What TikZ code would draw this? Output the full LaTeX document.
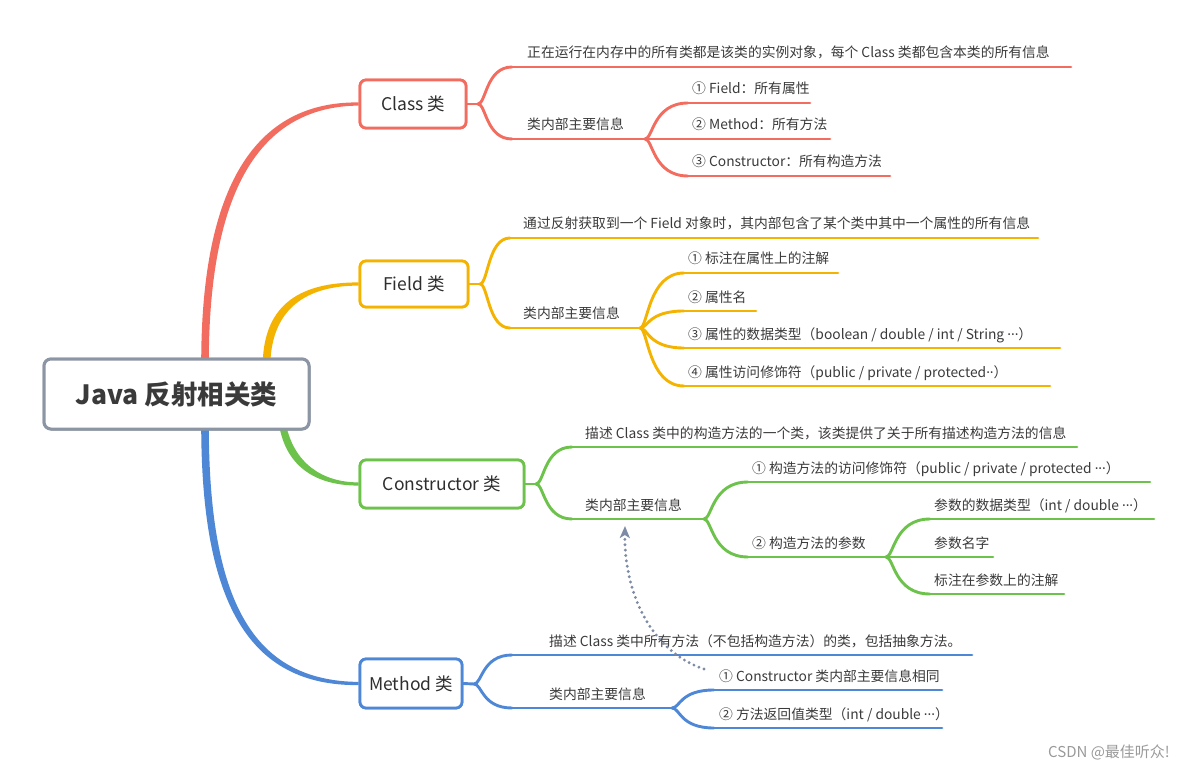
\documentclass[tikz,border=0pt]{standalone}
\usepackage{fontspec}
\setmainfont{Noto Sans CJK SC}
\newfontfamily\latf{Noto Sans}
\usetikzlibrary{calc,arrows.meta}
\definecolor{cred}{HTML}{F26D5F}
\definecolor{corg}{HTML}{F5B301}
\definecolor{cgrn}{HTML}{6CC24A}
\definecolor{cblu}{HTML}{4E87D6}
\definecolor{txt}{HTML}{3A3A3A}
\definecolor{boxtxt}{HTML}{2E2E2E}
\definecolor{rootc}{HTML}{8C95A3}
\definecolor{dotc}{HTML}{7D8BA5}
\definecolor{wmk}{HTML}{9A9A9A}
\tikzset{
  mmbox/.style={draw, line width=2.8pt, rounded corners=6pt, fill=white, text=boxtxt,
    font=\fontsize{17.5}{20}\selectfont, inner sep=0pt},
  rootbox/.style={draw=rootc, line width=3pt, rounded corners=7pt, fill=white, text=txt,
    font=\fontsize{26.5}{30}\selectfont\bfseries, inner sep=0pt, minimum width=265pt, minimum height=70pt},
  lbl/.style={anchor=base west, inner sep=0pt, text=txt, font=\fontsize{13.8}{16}\selectfont},
  br/.style={line width=2.9pt, line cap=round},
}
\newcommand{\dd}[1]{{\latf #1}}
\newcommand{\bcurve}[3]{\draw[br,#1] (#2) .. controls ($(#2)+(8,0)$) and ($(#2|-#3)+(8,0)$) .. (#3);}
\newcommand{\leaf}[7]{%
  \coordinate (#1s) at (#3,#4); \coordinate (#1e) at (#5,#4);
  \node[lbl] (#1) at (#6,#4-9) {#7};
  \draw[br,#2] (#1s) -- (#1e);}
\begin{document}
\begin{tikzpicture}[x=1pt,y=-1pt]
\useasboundingbox (0,0) rectangle (1184,770);
\node[rootbox] (root) at (176.5,394) {Java 反射相关类};
\node[mmbox, draw=cred, minimum width=106pt, minimum height=48pt] (Class) at (413,104) {Class 类};
\node[mmbox, draw=corg, minimum width=108pt, minimum height=46pt] (Field) at (414,284) {Field 类};
\node[mmbox, draw=cgrn, minimum width=164pt, minimum height=48pt] (Cons) at (442,484) {Constructor 类};
\node[mmbox, draw=cblu, minimum width=102pt, minimum height=49pt] (Meth) at (411,683.5) {Method 类};
% main tapered connectors
\coordinate (rS1) at ([xshift=28.5pt]root.north);
\coordinate (rS2) at ([xshift=90pt]root.north);
\coordinate (rS3) at ([xshift=106pt]root.south);
\coordinate (rS4) at ([xshift=28.5pt]root.south);
\fill[cred] ($(rS1)+(-3.8,6)$) .. controls (201.2,198) and (248,101.4) .. ($(Class.west)+(0,-1.6)$)
   -- ($(Class.west)+(0,1.6)$) .. controls (252,106.6) and (208.8,204) .. ($(rS1)+(3.8,6)$) -- cycle;
\fill[corg] ($(rS2)+(-3.8,6)$) .. controls (264,302) and (303,282.4) .. ($(Field.west)+(0,-1.6)$)
   -- ($(Field.west)+(0,1.6)$) .. controls (307,285.6) and (272,308) .. ($(rS2)+(3.8,6)$) -- cycle;
\fill[cgrn] ($(rS3)+(-3.5,-6)$) .. controls (286,467) and (316,485.6) .. ($(Cons.west)+(0,1.6)$)
   -- ($(Cons.west)+(0,-1.6)$) .. controls (322,482.4) and (294,463) .. ($(rS3)+(3.5,-6)$) -- cycle;
\fill[cblu] ($(rS4)+(-3.8,-6)$) .. controls (201.2,602) and (248,686.1) .. ($(Meth.west)+(0,1.6)$)
   -- ($(Meth.west)+(0,-1.6)$) .. controls (252,680.9) and (208.8,600) .. ($(rS4)+(3.8,-6)$) -- cycle;
% redraw nodes on top of the connectors
\node[rootbox] at (root.center) {Java 反射相关类};
\node[mmbox, draw=cred, minimum width=106pt, minimum height=48pt] at (Class.center) {Class 类};
\node[mmbox, draw=corg, minimum width=108pt, minimum height=46pt] at (Field.center) {Field 类};
\node[mmbox, draw=cgrn, minimum width=164pt, minimum height=48pt] at (Cons.center) {Constructor 类};
\node[mmbox, draw=cblu, minimum width=102pt, minimum height=49pt] at (Meth.center) {Method 类};

% ---------- Class ----------
\coordinate (cf) at (478,104);
\draw[br,cred] (Class.east) -- (cf);
\leaf{cA}{cred}{512}{67}{1071}{527}{正在运行在内存中的所有类都是该类的实例对象，每个 Class 类都包含本类的所有信息}
\leaf{cB}{cred}{512}{139}{645}{527}{类内部主要信息}
\bcurve{cred}{cf}{cAs}
\bcurve{cred}{cf}{cBs}
\leaf{cB1}{cred}{688}{103}{810}{692}{① Field：所有属性}
\leaf{cB2}{cred}{645}{139}{830}{692}{② Method：所有方法}
\leaf{cB3}{cred}{688}{176}{890}{692}{③ Constructor：所有构造方法}
\bcurve{cred}{cBe}{cB1s}
\bcurve{cred}{cBe}{cB3s}

% ---------- Field ----------
\coordinate (ff) at (480,284);
\draw[br,corg] (Field.east) -- (ff);
\leaf{fA}{corg}{510}{238}{1038}{523}{通过反射获取到一个 Field 对象时，其内部包含了某个类中其中一个属性的所有信息}
\leaf{fB}{corg}{510}{328}{640}{523}{类内部主要信息}
\bcurve{corg}{ff}{fAs}
\bcurve{corg}{ff}{fBs}
\leaf{fB1}{corg}{684}{273}{838}{688}{① 标注在属性上的注解}
\leaf{fB2}{corg}{684}{311}{756}{688}{② 属性名}
\leaf{fB3}{corg}{684}{348}{1060}{688}{③ 属性的数据类型（boolean / double / int / String \dd{···}）}
\leaf{fB4}{corg}{684}{386}{1050}{688}{④ 属性访问修饰符（public / private / protected\dd{··}）}
\bcurve{corg}{fBe}{fB1s}
\bcurve{corg}{fBe}{fB2s}
\bcurve{corg}{fBe}{fB3s}
\bcurve{corg}{fBe}{fB4s}

% ---------- Constructor ----------
\coordinate (kf) at (536,484);
\draw[br,cgrn] (Cons.east) -- (kf);
\leaf{kA}{cgrn}{572}{447}{1077}{585}{描述 Class 类中的构造方法的一个类，该类提供了关于所有描述构造方法的信息}
\leaf{kB}{cgrn}{572}{519}{704}{585}{类内部主要信息}
\bcurve{cgrn}{kf}{kAs}
\bcurve{cgrn}{kf}{kBs}
\leaf{kB1}{cgrn}{748}{482}{1150}{752}{① 构造方法的访问修饰符（public / private / protected \dd{···}）}
\leaf{kB2}{cgrn}{748}{557}{886}{752}{② 构造方法的参数}
\bcurve{cgrn}{kBe}{kB1s}
\bcurve{cgrn}{kBe}{kB2s}
\leaf{kC1}{cgrn}{930}{519}{1154}{934}{参数的数据类型（int / double \dd{···}）}
\leaf{kC2}{cgrn}{886}{557}{993}{934}{参数名字}
\leaf{kC3}{cgrn}{930}{594}{1064}{934}{标注在参数上的注解}
\bcurve{cgrn}{kB2e}{kC1s}
\bcurve{cgrn}{kB2e}{kC3s}

% ---------- Method ----------
\coordinate (mf) at (474,684);
\draw[br,cblu] (Meth.east) -- (mf);
\leaf{mA}{cblu}{512}{655}{972}{549}{描述 Class 类中所有方法（不包括构造方法）的类，包括抽象方法。}
\leaf{mB}{cblu}{512}{708}{672}{549}{类内部主要信息}
\bcurve{cblu}{mf}{mAs}
\bcurve{cblu}{mf}{mBs}
\leaf{mB1}{cblu}{714}{690}{942}{719}{① Constructor 类内部主要信息相同}
\leaf{mB2}{cblu}{714}{728}{942}{719}{② 方法返回值类型（int / double \dd{···}）}
\bcurve{cblu}{mBe}{mB1s}
\bcurve{cblu}{mBe}{mB2s}

% ---------- dotted relation ----------
\coordinate (arrS) at (704,669);
\coordinate (arrE) at (625,526);
\draw[dotc, line width=3.2pt, line cap=round, dash pattern=on 0pt off 5.4pt,
      -{Stealth[length=12pt,width=10pt,inset=3pt]}] (arrS) .. controls (652,652) and (624,594) .. (arrE);

% watermark
\node[anchor=east, inner sep=0pt, text=wmk, font=\fontsize{15}{18}\selectfont] (wm) at (1170,752) {CSDN @最佳听众!};
\end{tikzpicture}
\end{document}
